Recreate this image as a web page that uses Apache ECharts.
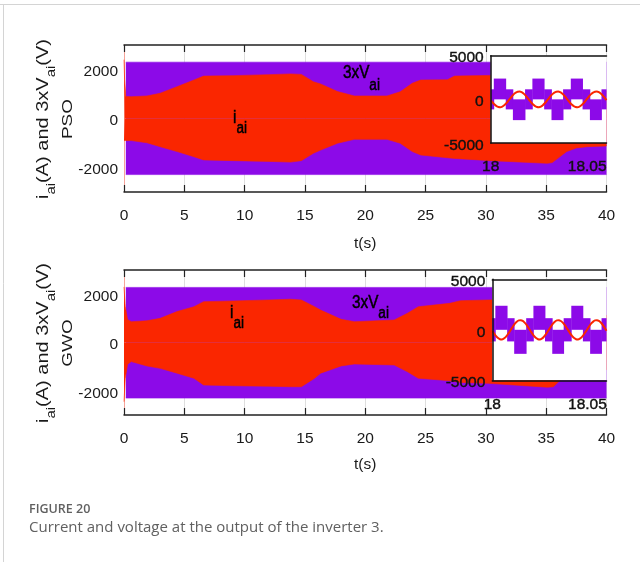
<!DOCTYPE html>
<html>
<head>
<meta charset="utf-8">
<script src="https://cdn.jsdelivr.net/npm/echarts@6/dist/echarts.min.js"></script>
<style>
  html, body { margin: 0; padding: 0; background: #fff; }
  #chart { width: 640px; height: 562px; }
</style>
</head>
<body>
<div id="chart"></div>
<script>
// ---- main time axis (s) ----
const timeTicks = [0, 5, 10, 15, 20, 25, 30, 35, 40];
const ampTickLabels = ['-2000', '0', '2000'];

// ---- PSO: envelope of the inverter current i_ai (A) ----
const tPso      = [0, 0.05, 0.15, 0.6, 1.9, 3.0, 4.4, 5.8, 6.6, 9.1, 12, 13.8, 14.7, 15.7, 16.3, 17.7, 19.1, 21.8, 22.9, 23.9, 24.6, 26.8, 27.4, 30.4, 35.1, 35.5, 36.7, 37.5, 38.4, 40];
const iPsoUpper = [2400, 1600, 900, 890, 920, 1030, 1300, 1570, 1730, 1750, 1790, 1820, 1800, 1500, 1410, 1100, 920, 920, 1090, 1440, 1570, 1580, 1730, 1760, 1820, 1790, 1350, 1210, 1150, 1120];
const iPsoLower = [-900, -900, -880, -900, -990, -1150, -1350, -1560, -1690, -1720, -1750, -1780, -1720, -1420, -1290, -1010, -850, -850, -1010, -1350, -1490, -1600, -1630, -1720, -1830, -1800, -1350, -1200, -1150, -1120];

// ---- GWO: envelope of the inverter current i_ai (A) ----
const tGwo      = [0, 0.1, 0.3, 0.6, 1.9, 3.0, 4.4, 5.8, 6.6, 9.1, 12, 13.8, 14.7, 15.8, 16.3, 18, 19.1, 22.4, 23.5, 24.4, 27.0, 27.9, 30.2, 35.1, 35.6, 36.5, 37.5, 38.5, 40];
const iGwoUpper = [2300, 1500, 950, 860, 900, 1000, 1280, 1480, 1690, 1720, 1760, 1790, 1760, 1480, 1340, 960, 860, 930, 1210, 1480, 1620, 1730, 1760, 1800, 1800, 1400, 1200, 1150, 1120];
const iGwoLower = [-2450, -1500, -900, -790, -970, -1070, -1270, -1480, -1760, -1790, -1810, -1830, -1830, -1480, -1270, -970, -890, -930, -1210, -1480, -1580, -1650, -1690, -1850, -1830, -1400, -1200, -1150, -1120];

// ---- 3xV_ai (V): switching band of the multilevel voltage ----
const tVolt     = [0.15, 40];
const vPsoUpper = [2300, 2300];
const vPsoLower = [-2290, -2290];
const vGwoUpper = [2280, 2280];
const vGwoLower = [-2300, -2300];

// ---- zoom window 18 s .. 18.06 s (times in ms after 18 s) ----
const zoomTickLabels = ['18', '18.05'];
const tZoomMs = [0,1,2,3,4,5,6,7,8,9,10,11,12,13,14,15,16,17,18,19,20,21,22,23,24,25,26,27,28,29,30,31,32,33,34,35,36,37,38,39,40,41,42,43,44,45,46,47,48,49,50,51,52,53,54,55,56,57,58,59,60];
const iZoomPso = [-90,-360,-600,-780,-880,-900,-830,-680,-460,-200,80,350,600,780,880,900,830,670,460,190,-90,-360,-600,-780,-880,-900,-830,-670,-450,-190,90,360,600,780,880,900,820,670,460,200,-80,-360,-600,-780,-880,-900,-830,-680,-460,-200,80,360,600,770,880,900,830,680,460,190,-90];
const iZoomGwo = [-90,-380,-630,-820,-930,-950,-880,-720,-490,-210,90,380,630,820,930,950,880,710,490,200,-90,-380,-630,-820,-930,-950,-880,-710,-480,-200,90,380,630,820,930,950,870,710,490,210,-80,-380,-630,-820,-930,-950,-880,-720,-490,-210,80,380,630,810,930,950,880,720,490,200,-90];
// switching instants (ms) and the level band held between consecutive instants
const vStepMs   = [0, 1.6, 7.8, 11.5, 17.8, 21.6, 27.7, 31.5, 37.5, 41.5, 47.6, 51.4, 57.4, 60];
const vStepLow  = [-1150, 0, -1150, -2380, -1150, 0, -1150, -2380, -1150, 0, -1150, -2380, -1150];
const vStepHigh = [1150, 2380, 1150, 0, 1150, 2380, 1150, 0, 1150, 2380, 1150, 0, 1150];

const RED = '#fa2600';
const PURPLE = '#8c0ae8';
const FONT = "'Liberation Sans', Arial, sans-serif";
const INK = '#1a1a1a';
const TICK_SIZE = 15.5;

const pairs = (t, v) => t.map((x, i) => [x, v[i]]);
const zoomT = ms => 18 + ms / 1000;

function bandSeries(xi, yi, t, v, color, z) {
  return {
    type: 'line', xAxisIndex: xi, yAxisIndex: yi, data: pairs(t, v),
    symbol: 'none', silent: true, animation: false, z: z,
    lineStyle: { width: 0.6, color: color },
    areaStyle: { color: color, opacity: 1 }
  };
}

function stepSeries(xi, yi, z) {
  const segs = [];
  for (let i = 0; i < vStepLow.length; i++) {
    segs.push([zoomT(vStepMs[i]), zoomT(vStepMs[i + 1]), vStepLow[i], vStepHigh[i]]);
  }
  return {
    type: 'custom', xAxisIndex: xi, yAxisIndex: yi, data: segs, z: z, silent: true, animation: false,
    renderItem: function (params, api) {
      const p0 = api.coord([api.value(0), api.value(3)]);
      const p1 = api.coord([api.value(1), api.value(2)]);
      return {
        type: 'rect',
        shape: echarts.graphic.clipRectByRect(
          { x: p0[0], y: p0[1], width: p1[0] - p0[0] + 0.4, height: p1[1] - p0[1] },
          { x: params.coordSys.x, y: params.coordSys.y, width: params.coordSys.width, height: params.coordSys.height }
        ),
        style: { fill: PURPLE }
      };
    }
  };
}

function zoomCurrent(xi, yi, vals, z) {
  return {
    type: 'line', xAxisIndex: xi, yAxisIndex: yi, z: z, silent: true, animation: false,
    data: tZoomMs.map((ms, i) => [zoomT(ms), vals[i]]),
    symbol: 'none', smooth: 0.3,
    lineStyle: { width: 2, color: RED },
    markLine: {
      silent: true, symbol: 'none', label: { show: false },
      lineStyle: { color: '#c8c8c8', width: 1, type: 'solid' },
      data: [{ xAxis: 18.05 }]
    }
  };
}

function mainX(grid, nameGap) {
  return [{
    type: 'value', gridIndex: grid, position: 'bottom', min: 0, max: 40, interval: 5,
    axisLine: { show: true, onZero: false, lineStyle: { color: '#222', width: 1.5 } },
    axisTick: { show: true, inside: true, length: 7, lineStyle: { color: '#222', width: 1.2 } },
    axisLabel: { show: true, margin: 16, color: INK, fontSize: TICK_SIZE, fontFamily: FONT,
      formatter: v => (timeTicks.indexOf(v) >= 0 ? String(v) : '') },
    splitLine: { show: true, lineStyle: { color: '#dedede', width: 1 } },
    name: 't(s)', nameLocation: 'middle', nameGap: nameGap,
    nameTextStyle: { color: INK, fontSize: TICK_SIZE, fontFamily: FONT }
  }, {
    type: 'value', gridIndex: grid, position: 'top', min: 0, max: 40, interval: 5,
    axisLine: { show: true, onZero: false, lineStyle: { color: '#222', width: 1.5 } },
    axisTick: { show: true, inside: true, length: 7, lineStyle: { color: '#222', width: 1.2 } },
    axisLabel: { show: false }, splitLine: { show: false }
  }];
}

function zoomX(grid) {
  return [{
    type: 'value', gridIndex: grid, position: 'bottom', min: 18, max: 18.06, interval: 0.05, z: 12,
    axisLine: { show: true, onZero: false, lineStyle: { color: '#111', width: 1.5 } },
    axisTick: { show: false },
    axisLabel: { show: true, margin: 16, color: '#111', fontSize: TICK_SIZE, fontFamily: FONT, showMaxLabel: false,
      textBorderColor: '#111', textBorderWidth: 0.4,
      formatter: v => (Math.abs(v - 18) < 1e-6 ? zoomTickLabels[0] : Math.abs(v - 18.05) < 1e-6 ? zoomTickLabels[1] : '') },
    splitLine: { show: false }
  }, {
    type: 'value', gridIndex: grid, position: 'top', min: 18, max: 18.06, interval: 0.05, z: 12,
    axisLine: { show: true, onZero: false, lineStyle: { color: '#111', width: 1.5 } },
    axisTick: { show: false }, axisLabel: { show: false }, splitLine: { show: false }
  }];
}

function mainY(grid) {
  return {
    type: 'value', gridIndex: grid, min: -3000, max: 3000, interval: 1000,
    axisLine: { show: true, onZero: false, lineStyle: { color: '#f6a49a', width: 1 } },
    axisTick: { show: false },
    axisLabel: { show: true, margin: 6, color: INK, fontSize: TICK_SIZE, fontFamily: FONT,
      verticalAlign: 'top', lineHeight: 5,
      formatter: v => (ampTickLabels.indexOf(String(v)) >= 0 ? String(v) : '') },
    splitLine: { show: false }
  };
}

function zoomY(grid) {
  return {
    type: 'value', gridIndex: grid, min: -5000, max: 5000, interval: 5000, z: 12,
    axisLine: { show: true, onZero: false, lineStyle: { color: '#111', width: 1.5 } },
    axisTick: { show: false },
    axisLabel: { show: true, margin: 7, color: '#111', fontSize: TICK_SIZE, fontFamily: FONT,
      textBorderColor: '#111', textBorderWidth: 0.4,
      verticalAlign: 'top', lineHeight: 5, formatter: v => String(v) },
    splitLine: { show: false }
  };
}

// text with subscripts, laid out piece by piece along the local x direction
const mctx = document.createElement('canvas').getContext('2d');
function textWidth(str, size) {
  mctx.font = size + "px 'Liberation Sans', Arial, sans-serif";
  return mctx.measureText(str).width;
}
function subscripted(parts, size, subSize, drop, color, heavy) {
  let x = 0;
  const kids = [];
  parts.forEach(p => {
    const fs = p[1] ? subSize : size;
    const style = { text: p[0], fontSize: fs, fontFamily: FONT, fill: color, align: 'left', verticalAlign: 'middle' };
    if (heavy) { style.stroke = color; style.lineWidth = 0.5; }
    kids.push({ type: 'text', x: x, y: p[1] ? drop : 0, z: 100, style: style });
    x += textWidth(p[0], fs);
  });
  return { kids: kids, width: x };
}
function note(x, y, main, sub, drop) {
  const t = subscripted([[main, false], [sub, true]], 18, 16, drop, '#000', true);
  return { type: 'group', x: x, y: y, scaleX: 0.85, children: t.kids };
}
function yTitle(y, method) {
  const t = subscripted([['i', false], ['ai', true], ['(A) and 3xV', false], ['ai', true], ['(V)', false]], 20, 15, 10, INK, false);
  t.kids.forEach(k => { k.x -= t.width / 2; });
  return [
    { type: 'group', x: 43.5, y: y, rotation: Math.PI / 2, scaleY: 0.8, children: t.kids },
    { type: 'group', x: 68, y: y, rotation: Math.PI / 2, scaleY: 0.8, children: [
      { type: 'text', x: 0, y: 0, z: 100, style: { text: method, fontSize: 19, fontFamily: FONT, fill: INK, align: 'center', verticalAlign: 'middle' } }
    ] }
  ];
}

const CAP_FONT = "'Open Sans', 'Noto Sans', sans-serif";

const option = {
  animation: false,
  backgroundColor: '#fff',
  grid: [
    { left: 124, top: 45, width: 482.5, height: 147 },
    { left: 124, top: 270, width: 482.5, height: 145 },
    { left: 490.7, top: 55.7, width: 115.8, height: 87.3, show: true, backgroundColor: '#fff', borderWidth: 0, z: 10 },
    { left: 492.3, top: 279.3, width: 114.2, height: 101, show: true, backgroundColor: '#fff', borderWidth: 0, z: 10 }
  ],
  xAxis: [].concat(mainX(0, 44), mainX(1, 42), zoomX(2), zoomX(3)),
  yAxis: [mainY(0), mainY(1), zoomY(2), zoomY(3)],
  series: [
    bandSeries(0, 0, tVolt, vPsoUpper, PURPLE, 2),
    bandSeries(0, 0, tVolt, vPsoLower, PURPLE, 2),
    bandSeries(0, 0, tPso, iPsoUpper, RED, 3),
    bandSeries(0, 0, tPso, iPsoLower, RED, 3),
    bandSeries(2, 1, tVolt, vGwoUpper, PURPLE, 2),
    bandSeries(2, 1, tVolt, vGwoLower, PURPLE, 2),
    bandSeries(2, 1, tGwo, iGwoUpper, RED, 3),
    bandSeries(2, 1, tGwo, iGwoLower, RED, 3),
    stepSeries(4, 2, 11),
    zoomCurrent(4, 2, iZoomPso, 11),
    stepSeries(6, 3, 11),
    zoomCurrent(6, 3, iZoomGwo, 11)
  ],
  graphic: [].concat(
    [
      { type: 'line', shape: { x1: 0, y1: 4.5, x2: 640, y2: 4.5 }, style: { stroke: '#d4d4d4', lineWidth: 1 } },
      { type: 'line', shape: { x1: 3.5, y1: 4.5, x2: 3.5, y2: 562 }, style: { stroke: '#d4d4d4', lineWidth: 1 } },
      note(233, 118, 'i', 'ai', 11),
      note(343, 73.5, '3xV', 'ai', 12),
      note(230, 313, 'i', 'ai', 11),
      note(352, 303.5, '3xV', 'ai', 10),
      { type: 'text', x: 29, y: 509, style: { text: 'FIGURE 20', fontSize: 12.5, fontWeight: 600, fontFamily: CAP_FONT, fill: '#606060', verticalAlign: 'middle' } },
      { type: 'text', x: 29, y: 528, style: { text: 'Current and voltage at the output of the inverter 3.', fontSize: 15, fontFamily: CAP_FONT, fill: '#606060', verticalAlign: 'middle' } }
    ],
    yTitle(119, 'PSO'),
    yTitle(343, 'GWO')
  )
};

const chart = echarts.init(document.getElementById('chart'), null, { renderer: 'canvas' });
chart.setOption(option);
</script>
</body>
</html>
